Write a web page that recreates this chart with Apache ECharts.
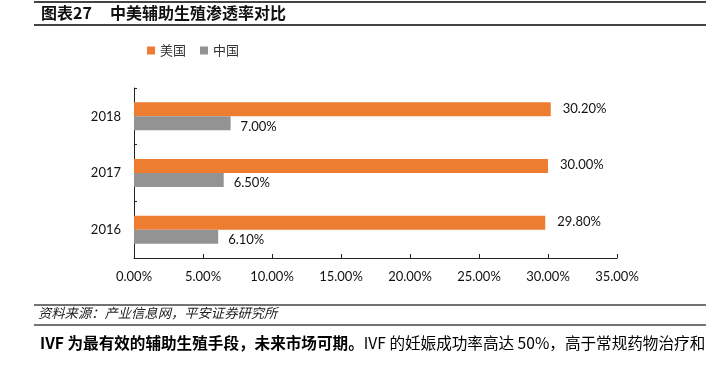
<!DOCTYPE html>
<html>
<head>
<meta charset="utf-8">
<script src="https://cdn.jsdelivr.net/npm/echarts@6/dist/echarts.min.js"></script>
<style>
html,body{margin:0;padding:0;background:#fff;}
#c{width:716px;height:370px;}
</style>
</head>
<body>
<div id="c"></div>
<script>
const categories = ['2016', '2017', '2018'];
const usValues = [29.8, 30.0, 30.2];
const cnValues = [6.1, 6.5, 7.0];
const xTicks = [0, 5, 10, 15, 20, 25, 30, 35];
const titleHead = '图表27';
const titleText = '中美辅助生殖渗透率对比';
const sourceText = '资料来源：产业信息网，平安证券研究所';
const noteBold = 'IVF 为最有效的辅助生殖手段，未来市场可期。';
const noteNormal = 'IVF 的妊娠成功率高达 50%，高于常规药物治疗和';

const chart = echarts.init(document.getElementById('c'), null, {renderer: 'canvas'});
const labelFont = 'Lato, "Liberation Sans", sans-serif';
const cjk = '"Noto Sans CJK SC", sans-serif';

chart.setOption({
  animation: false,
  backgroundColor: '#fff',
  legend: {
    data: ['美国', '中国'],
    top: 39,
    left: 142,
    itemWidth: 8,
    itemHeight: 8,
    itemGap: 14,
    icon: 'rect',
    textStyle: {fontFamily: cjk, fontSize: 13, color: '#333'}
  },
  grid: {left: 134, right: 99, top: 88, bottom: 112, containLabel: false},
  xAxis: {
    type: 'value',
    min: xTicks[0],
    max: xTicks[xTicks.length - 1],
    interval: 5,
    splitLine: {show: false},
    axisLine: {show: true, lineStyle: {color: '#222', width: 1}},
    axisTick: {show: true, inside: true, length: 4, lineStyle: {color: '#222'}},
    axisLabel: {
      margin: 12,
      fontFamily: labelFont, fontSize: 13, color: '#111',
      formatter: v => v.toFixed(2) + '%'
    }
  },
  yAxis: {
    type: 'category',
    data: categories,
    axisLine: {show: true, lineStyle: {color: '#222', width: 1}},
    axisTick: {show: true, inside: true, length: 3, lineStyle: {color: '#222'}},
    axisLabel: {margin: 13, fontFamily: labelFont, fontSize: 13, color: '#111'}
  },
  series: [
    {
      name: '美国',
      type: 'bar',
      data: usValues,
      barWidth: 14,
      barGap: '0%',
      itemStyle: {color: '#ED7D31'},
      label: {
        show: true, position: 'right', distance: 12, offset: [0, -1],
        fontFamily: labelFont, fontSize: 13, color: '#111',
        formatter: p => p.value.toFixed(2) + '%'
      }
    },
    {
      name: '中国',
      type: 'bar',
      data: cnValues,
      barWidth: 14,
      barGap: '0%',
      itemStyle: {color: '#939393'},
      label: {
        show: true, position: 'right', distance: 10, offset: [0, 3],
        fontFamily: labelFont, fontSize: 13, color: '#111',
        formatter: p => p.value.toFixed(2) + '%'
      }
    }
  ],
  graphic: [
    {type: 'line', shape: {x1: 34, y1: 2, x2: 706, y2: 2}, style: {stroke: '#444', lineWidth: 2}},
    {type: 'line', shape: {x1: 34, y1: 25, x2: 706, y2: 25}, style: {stroke: '#444', lineWidth: 2}},
    {type: 'text', left: 41, top: 5, style: {text: titleHead, font: 'bold 16px ' + cjk, fill: '#111'}},
    {type: 'text', left: 110, top: 5, style: {text: titleText, font: 'bold 16px ' + cjk, fill: '#111'}},
    {type: 'line', shape: {x1: 34, y1: 305, x2: 706, y2: 305}, style: {stroke: '#444', lineWidth: 1.5}},
    {type: 'text', left: 38, top: 306, style: {text: sourceText, font: 'italic 13.3px ' + cjk, fill: '#222'}},
    {type: 'line', shape: {x1: 34, y1: 325, x2: 706, y2: 325}, style: {stroke: '#444', lineWidth: 1.5}},
    {type: 'text', left: 40, top: 335, style: {
      text: '{b|' + noteBold + '}{n|' + noteNormal + '}',
      rich: {
        b: {font: 'bold 15.6px ' + cjk, fill: '#000'},
        n: {font: '15.6px ' + cjk, fill: '#000'}
      }
    }}
  ]
});
</script>
</body>
</html>
